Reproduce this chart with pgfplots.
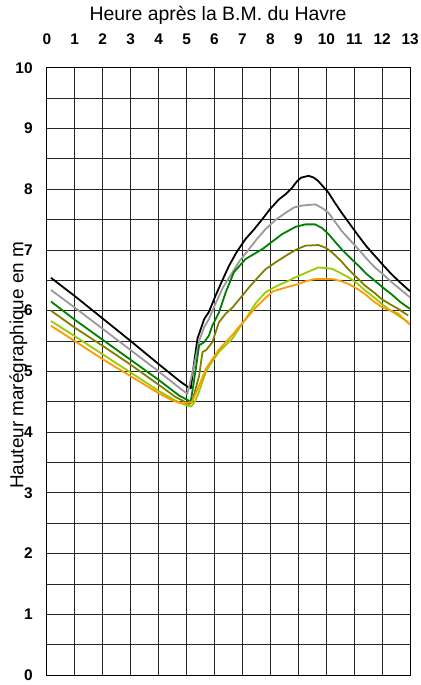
\documentclass[border=0pt]{standalone}
\usepackage{fontspec}
\setmainfont{Liberation Sans}
\usepackage{pgfplots}
\pgfplotsset{compat=1.18}
\definecolor{cgray}{HTML}{999999}
\definecolor{cgreen}{HTML}{008000}
\definecolor{colive}{HTML}{808000}
\definecolor{clime}{HTML}{99CC00}
\definecolor{corange}{HTML}{FF9900}

\begin{document}
\begin{tikzpicture}
\useasboundingbox (-47pt,-10pt) rectangle (375pt,678pt);
\begin{axis}[
  at={(0pt,0pt)}, anchor=south west,
  scale only axis, width=365pt, height=610pt,
  xmin=0, xmax=13, ymin=0, ymax=10,
  xtick={0,...,13}, ytick={0,...,10},
  minor y tick num=1,
  grid=both,
  major grid style={black!85, line width=0.8pt},
  minor grid style={black!85, line width=0.8pt},
  axis line style={black, line width=0.8pt},
  major tick length=0pt, minor tick length=0pt,
  xticklabel pos=upper,
  /pgf/number format/assume math mode=true,
  tick label style={font=\bfseries\fontsize{15.5}{15.5}\selectfont},
  xticklabel style={anchor=base, inner sep=0pt, yshift=23pt},
  yticklabel style={anchor=east, inner sep=0pt, xshift=-14pt},
  title={Heure après la B.M. du Havre},
  title style={font=\fontsize{19.5}{21}\selectfont, at={(axis description cs:0.471,1)},
    anchor=base, inner sep=0pt, yshift=41pt},
  ylabel={Hauteur marégraphique en m},
  ylabel style={font=\fontsize{19}{20}\selectfont, at={(axis description cs:-0.078,0.51)},
    anchor=center, inner sep=0pt},
  every axis plot/.append style={line width=1.8pt, line join=round},
]
% noir
\addplot[black] coordinates {
 (0.15,6.54) (1,6.24) (2,5.87) (3,5.50) (4,5.12) (4.78,4.83) (5.03,4.75) (5.15,4.72)
 (5.24,5.04) (5.39,5.54) (5.63,5.86) (5.8,5.98) (6.04,6.25) (6.3,6.52) (6.52,6.74)
 (6.8,6.97) (7.11,7.18) (7.4,7.33) (7.70,7.50) (8.0,7.68) (8.30,7.83) (8.55,7.92)
 (8.77,8.02) (8.95,8.13) (9.1,8.19) (9.37,8.22) (9.55,8.19) (9.72,8.13) (10.08,7.94)
 (10.3,7.78) (10.55,7.61) (10.85,7.42) (11.15,7.23) (11.45,7.05) (11.74,6.90)
 (12.05,6.74) (12.33,6.60) (12.65,6.46) (12.99,6.32)};
% gris
\addplot[cgray] coordinates {
 (0.15,6.34) (1,6.05) (2,5.70) (3,5.35) (4,5.00) (4.74,4.73) (5.03,4.63)
 (5.27,5.10) (5.45,5.50) (5.63,5.73) (5.8,5.86) (6.04,6.12) (6.3,6.38) (6.64,6.63)
 (6.9,6.82) (7.23,7.01) (7.5,7.17) (7.82,7.34) (8.2,7.50) (8.54,7.61) (8.85,7.70)
 (9.13,7.73) (9.6,7.75) (9.85,7.69) (10.08,7.61) (10.3,7.47) (10.55,7.31) (10.85,7.16)
 (11.15,7.01) (11.45,6.85) (11.74,6.71) (12.05,6.59) (12.33,6.47) (12.65,6.35) (12.99,6.22)};
% vert
\addplot[cgreen] coordinates {
 (0.15,6.15) (1,5.85) (2,5.52) (3,5.19) (4,4.86) (4.74,4.60) (5.03,4.53) (5.15,4.50)
 (5.33,5.04) (5.45,5.43) (5.63,5.48) (5.80,5.59) (5.92,5.75) (6.16,5.97) (6.4,6.30)
 (6.69,6.63) (7.11,6.85) (7.70,7.01) (8.42,7.26) (8.9,7.38) (9.25,7.42) (9.6,7.42)
 (9.85,7.36) (10.08,7.26) (10.3,7.14) (10.55,7.01) (10.85,6.87) (11.15,6.74)
 (11.45,6.60) (11.74,6.49) (12.05,6.37) (12.33,6.27) (12.65,6.14) (12.99,6.03)};
% olive
\addplot[colive] coordinates {
 (0.15,6.00) (1,5.72) (2,5.42) (3,5.11) (4,4.78) (4.6,4.58) (5.09,4.46) (5.2,4.50)
 (5.45,4.93) (5.57,5.32) (5.7,5.35) (5.92,5.48) (6.16,5.81) (6.4,5.95) (6.64,6.05)
 (7.0,6.25) (7.23,6.38) (7.5,6.52) (7.82,6.68) (8.2,6.80) (8.54,6.90) (8.9,7.00)
 (9.25,7.07) (9.72,7.08) (10.0,7.03) (10.2,6.96) (10.5,6.83) (10.79,6.68) (11.1,6.54)
 (11.39,6.41) (11.7,6.30) (11.98,6.19) (12.3,6.10) (12.57,6.03) (12.93,5.92)};
% vert clair
\addplot[clime] coordinates {
 (0.15,5.83) (1,5.58) (2,5.28) (3,4.98) (4,4.68) (4.6,4.52) (5.0,4.44) (5.16,4.42)
 (5.3,4.50) (5.45,4.67) (5.69,4.99) (5.9,5.15) (6.16,5.32) (6.4,5.43) (6.64,5.54)
 (6.9,5.72) (7.11,5.86) (7.47,6.12) (7.82,6.30) (8.2,6.40) (8.54,6.47) (8.9,6.55)
 (9.25,6.62) (9.5,6.67) (9.72,6.71) (10.0,6.70) (10.2,6.69) (10.5,6.62) (10.79,6.55)
 (11.1,6.45) (11.39,6.33) (11.7,6.22) (11.98,6.11) (12.3,6.00) (12.57,5.92) (12.93,5.81)};
% orange
\addplot[corange] coordinates {
 (0.15,5.75) (1,5.50) (2,5.20) (3,4.92) (4,4.64) (4.5,4.52) (4.85,4.47) (5.2,4.50)
 (5.45,4.77) (5.69,5.04) (5.95,5.22) (6.16,5.36) (6.4,5.48) (6.64,5.60) (6.87,5.73)
 (7.1,5.85) (7.47,6.05) (7.8,6.20) (8.1,6.32) (8.4,6.36) (8.7,6.40) (9.01,6.44)
 (9.3,6.49) (9.6,6.52) (10.2,6.52) (10.5,6.49) (10.79,6.44) (11.1,6.36) (11.39,6.27)
 (11.7,6.15) (11.98,6.06) (12.3,6.00) (12.57,5.95) (12.8,5.85) (12.99,5.77)};
\end{axis}
\end{tikzpicture}
\end{document}
